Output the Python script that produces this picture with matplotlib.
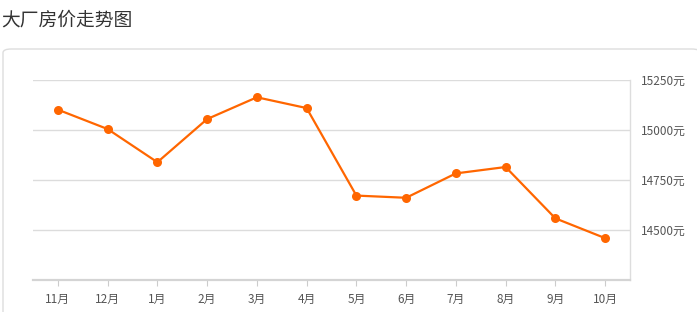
import matplotlib.pyplot as plt
from matplotlib.patches import FancyBboxPatch

plt.rcParams['font.family'] = ['Noto Sans CJK SC', 'DejaVu Sans']

months = ['11月', '12月', '1月', '2月', '3月', '4月', '5月', '6月', '7月', '8月', '9月', '10月']
prices = [15100, 15003, 14837, 15053, 15162, 15108, 14670, 14659, 14781, 14813, 14556, 14457]
yticks = [14500, 14750, 15000, 15250]

W, H = 697, 312
fig = plt.figure(figsize=(W / 100, H / 100), dpi=100)

# card border (behind the axes)
card = FancyBboxPatch((3 / W, -0.1), 1.0, (H - 49) / H + 0.1,
                      boxstyle='round,pad=0,rounding_size=0.012',
                      transform=fig.transFigure, facecolor='white',
                      edgecolor='#dddddd', linewidth=1.0, zorder=-5)
fig.patches.append(card)

fig.text(1 / W, 1 - 20 / H, '大厂房价走势图', fontsize=13.5, color='#333333',
         ha='left', va='center')

left, right, top, bottom = 33, 630, 79.7, 279.5
ax = fig.add_axes([left / W, 1 - bottom / H, (right - left) / W, (bottom - top) / H])
ax.patch.set_visible(False)

x = range(len(months))
ax.plot(x, prices, color='#ff6600', linewidth=1.6, marker='o', markersize=6.5,
        markeredgewidth=0, zorder=3)

ax.set_xlim(-0.5, len(months) - 0.5)
ax.set_ylim(14250, 15250)
ax.set_xticks(list(x))
ax.set_xticklabels(months)
ax.set_yticks(yticks)
ax.set_yticklabels([f'{v}元' for v in yticks])
ax.yaxis.tick_right()
ax.tick_params(axis='y', length=0, pad=8, labelsize=8.5, labelcolor='#555555')
ax.tick_params(axis='x', length=4, width=0.8, color='#cccccc', pad=6,
               labelsize=8.5, labelcolor='#555555')
ax.grid(axis='y', color='#dcdcdc', linewidth=1.0)
ax.set_axisbelow(True)

for s in ['left', 'top']:
    ax.spines[s].set_visible(False)
ax.spines['right'].set_color('#dddddd')
ax.spines['right'].set_linewidth(1.0)
ax.spines['bottom'].set_color('#d4d4d4')
ax.spines['bottom'].set_linewidth(1.6)

fig.savefig('out.png', dpi=100)
